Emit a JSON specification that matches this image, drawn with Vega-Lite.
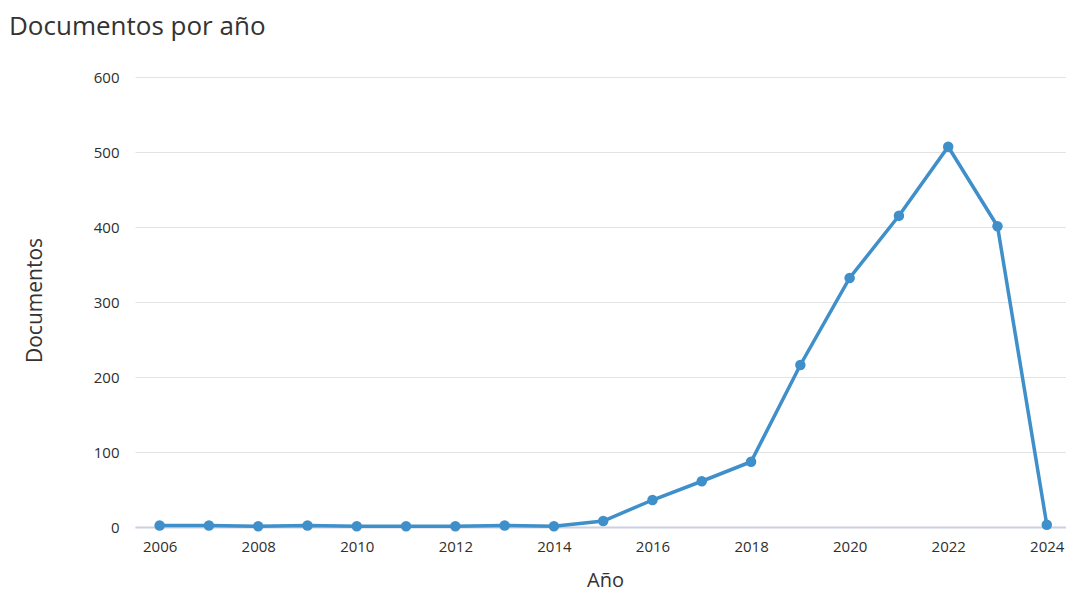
{
  "$schema": "https://vega.github.io/schema/vega-lite/v6.json",
  "width": 931,
  "height": 450,
  "autosize": "none",
  "padding": {"left": 135, "top": 77, "right": 0, "bottom": 66},
  "background": "white",
  "title": {
    "text": "Documentos por año",
    "anchor": "start",
    "frame": "group",
    "orient": "top",
    "dx": -126,
    "offset": 30,
    "font": "Open Sans",
    "fontSize": 26,
    "fontWeight": "normal",
    "color": "#333333"
  },
  "config": {
    "view": {"stroke": null},
    "font": "Open Sans"
  },
  "data": {
    "values": [
      {"year": 2006, "docs": 2},
      {"year": 2007, "docs": 2},
      {"year": 2008, "docs": 1},
      {"year": 2009, "docs": 2},
      {"year": 2010, "docs": 1},
      {"year": 2011, "docs": 1},
      {"year": 2012, "docs": 1},
      {"year": 2013, "docs": 2},
      {"year": 2014, "docs": 1},
      {"year": 2015, "docs": 8},
      {"year": 2016, "docs": 36},
      {"year": 2017, "docs": 61},
      {"year": 2018, "docs": 87},
      {"year": 2019, "docs": 216},
      {"year": 2020, "docs": 332},
      {"year": 2021, "docs": 415},
      {"year": 2022, "docs": 507},
      {"year": 2023, "docs": 401},
      {"year": 2024, "docs": 3}
    ]
  },
  "mark": {
    "type": "line",
    "color": "#3f8fca",
    "strokeWidth": 3.5,
    "point": {"filled": true, "size": 110, "color": "#3f8fca"}
  },
  "encoding": {
    "x": {
      "field": "year",
      "type": "quantitative",
      "scale": {"domain": [2005.5, 2024.39], "nice": false, "zero": false},
      "axis": {
        "title": "Año",
        "values": [2006, 2008, 2010, 2012, 2014, 2016, 2018, 2020, 2022, 2024],
        "format": "d",
        "grid": false,
        "ticks": false,
        "domain": true,
        "domainColor": "#ccd0e2",
        "domainWidth": 2,
        "labelFont": "Open Sans",
        "labelFontSize": 15,
        "labelColor": "#2e2e2e",
        "labelPadding": 12,
        "labelFlush": false,
        "titleFont": "Open Sans",
        "titleFontSize": 20,
        "titleFontWeight": "normal",
        "titleColor": "#333333",
        "titleX": 470,
        "titleY": 53,
        "titleBaseline": "middle"
      }
    },
    "y": {
      "field": "docs",
      "type": "quantitative",
      "scale": {"domain": [0, 600], "nice": false},
      "axis": {
        "title": "Documentos",
        "values": [0, 100, 200, 300, 400, 500, 600],
        "grid": true,
        "gridColor": "#e3e3e3",
        "gridWidth": 1.2,
        "ticks": false,
        "domain": false,
        "labelFont": "Open Sans",
        "labelFontSize": 15,
        "labelColor": "#2e2e2e",
        "labelPadding": 16,
        "titleFont": "Open Sans",
        "titleFontSize": 21,
        "titleFontWeight": "normal",
        "titleColor": "#333333",
        "titleX": -100,
        "titleY": 223,
        "titleBaseline": "middle",
        "titleAngle": -90
      }
    }
  }
}
